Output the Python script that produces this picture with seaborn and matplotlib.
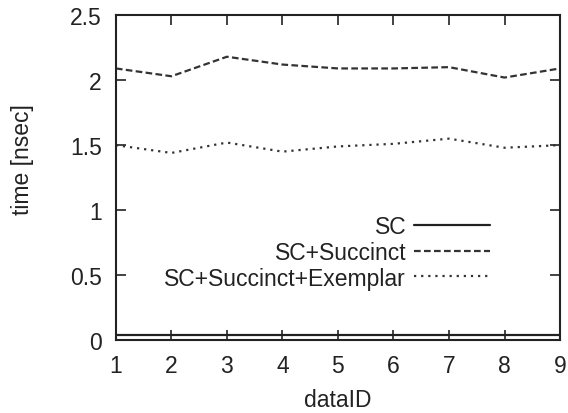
import numpy as np
import pandas as pd
import matplotlib
matplotlib.use("Agg")
import matplotlib.pyplot as plt
import seaborn as sns

data_ids = [1, 2, 3, 4, 5, 6, 7, 8, 9]
sc = [0.04, 0.04, 0.04, 0.04, 0.04, 0.04, 0.04, 0.04, 0.04]
sc_succinct = [2.09, 2.03, 2.18, 2.12, 2.09, 2.09, 2.10, 2.02, 2.09]
sc_succinct_exemplar = [1.50, 1.44, 1.52, 1.45, 1.49, 1.51, 1.55, 1.48, 1.50]
series_names = ["SC", "SC+Succinct", "SC+Succinct+Exemplar"]
x_ticks = [1, 2, 3, 4, 5, 6, 7, 8, 9]
y_ticks = [0, 0.5, 1, 1.5, 2, 2.5]
y_tick_labels = ["0", "0.5", "1", "1.5", "2", "2.5"]

df = pd.DataFrame({
    "dataID": data_ids * 3,
    "time": sc + sc_succinct + sc_succinct_exemplar,
    "series": [series_names[0]] * 9 + [series_names[1]] * 9 + [series_names[2]] * 9,
})

sns.set_style("ticks")
plt.rcParams["font.family"] = ["Liberation Sans", "DejaVu Sans"]

FS = 16.5
fig = plt.figure(figsize=(5.68, 4.14), dpi=100)
ax = fig.add_axes([0.204, 0.176, 0.782, 0.785])

sns.lineplot(data=df, x="dataID", y="time", hue="series", style="series",
             palette=["#222222", "#333333", "#333333"],
             dashes={"SC": "", "SC+Succinct": (3, 1.5), "SC+Succinct+Exemplar": (1, 2.2)},
             linewidth=1.6, ax=ax, legend=True)

ax.set_xlim(1, 9)
ax.set_ylim(0, 2.5)
ax.set_xticks(x_ticks)
ax.set_yticks(y_ticks)
ax.set_yticklabels(y_tick_labels)
ax.tick_params(direction="in", length=7, width=1.2, top=True, right=True,
               labelsize=FS, colors="#222222")
ax.tick_params(axis="y", pad=10)
ax.tick_params(axis="x", pad=10)
for s in ax.spines.values():
    s.set_linewidth(1.5)
    s.set_color("#222222")
    s.set_visible(True)
ax.set_xlabel("dataID", fontsize=FS, color="#222222", labelpad=8)
ax.set_ylabel("time [nsec]", fontsize=FS, color="#222222")
ax.yaxis.set_label_coords(-0.185, 0.56)

handles, labels = ax.get_legend_handles_labels()
leg = ax.legend(handles, labels, loc="upper right", bbox_to_anchor=(0.842, 0.385),
                frameon=False, markerfirst=False, handlelength=3.3,
                fontsize=FS, labelspacing=0.12, handletextpad=0.35,
                borderpad=0, borderaxespad=0, alignment="right")
for t in leg.get_texts():
    t.set_ha("right")
    t.set_color("#222222")
leg._legend_box.align = "right"
for vp in leg._legend_handle_box.get_children():
    for hp in vp.get_children():
        hp.align = "right"
for hp in leg._legend_handle_box.get_children()[0].get_children():
    hp.align = "baseline"

fig.savefig("out.png", dpi=100, facecolor="white")
